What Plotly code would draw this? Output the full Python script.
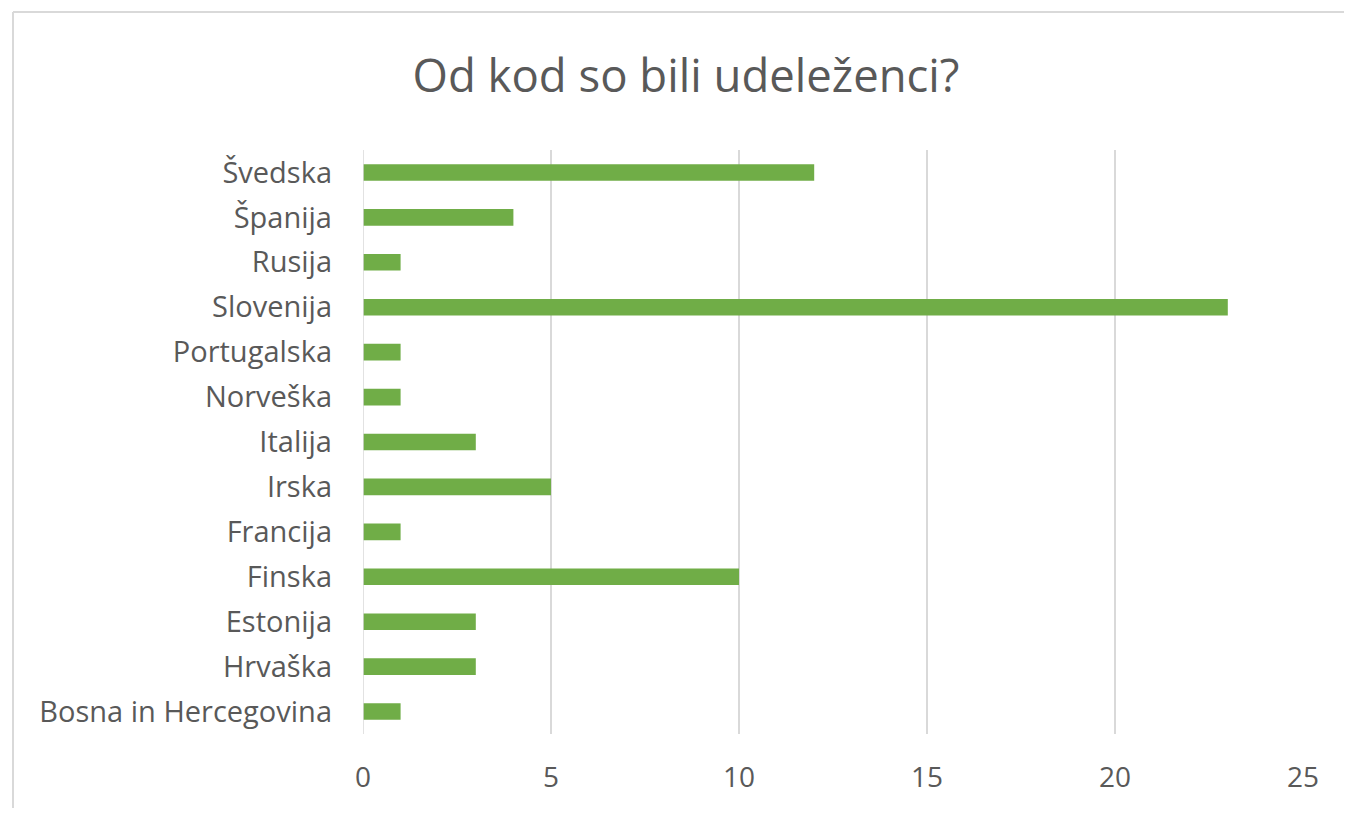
import plotly.graph_objects as go

countries = ["Bosna in Hercegovina", "Hrvaška", "Estonija", "Finska", "Francija",
             "Irska", "Italija", "Norveška", "Portugalska", "Slovenija", "Rusija",
             "Španija", "Švedska"]
counts = [1, 3, 3, 10, 1, 5, 3, 1, 1, 23, 1, 4, 12]
x_ticks = [0, 5, 10, 15, 20, 25]
title_text = "Od kod so bili udeleženci?"

FONT = "Open Sans"
TXT = "#595959"

# the page puts the figure 8px from each edge; size and margins compensate
W, H = 1336, 800
L, R, T, B = 355, 41, 142, 74

fig = go.Figure(go.Bar(
    x=counts, y=countries, orientation="h",
    marker=dict(color="#70AD47", line=dict(width=0)),
    width=0.37,
))

pw = W - L - R
ph = H - T - B
bx = (5 - L) / pw          # left border position in paper units
by = (ph + T - 4) / ph     # top border position in paper units

fig.update_layout(
    width=W, height=H,
    paper_bgcolor="white", plot_bgcolor="white",
    margin=dict(l=L, r=R, t=T, b=B),
    title=dict(text=title_text, x=(686 - 8) / W, xanchor="center",
               y=1 - (76 - 8) / H, yanchor="middle",
               font=dict(family=FONT, size=45.5, color=TXT)),
    font=dict(family=FONT, color=TXT),
    showlegend=False,
    xaxis=dict(range=[0, 25], tickvals=x_ticks, showgrid=True, gridcolor="#D9D9D9",
               gridwidth=1.5, zeroline=False, showline=False, ticks="",
               tickfont=dict(family=FONT, size=28, color=TXT), ticklabelstandoff=24,
               fixedrange=True),
    yaxis=dict(categoryorder="array", categoryarray=countries, showgrid=False,
               zeroline=False, showline=False, ticks="",
               tickfont=dict(family=FONT, size=29, color=TXT), ticklabelstandoff=30,
               fixedrange=True),
    shapes=[
        dict(type="line", xref="x", yref="paper", x0=0, x1=0, y0=0, y1=1,
             line=dict(color="#D9D9D9", width=1.5)),
        dict(type="line", xref="paper", yref="paper", x0=bx, x1=1.5, y0=by, y1=by,
             line=dict(color="#D9D9D9", width=2), layer="below"),
        dict(type="line", xref="paper", yref="paper", x0=bx, x1=bx, y0=-0.5, y1=by,
             line=dict(color="#D9D9D9", width=2), layer="below"),
    ],
)

fig.write_html("out.html", config={"displayModeBar": False})
